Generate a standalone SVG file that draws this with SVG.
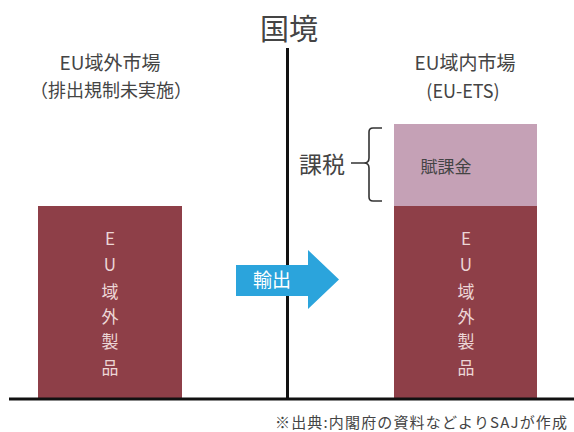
<svg xmlns="http://www.w3.org/2000/svg" width="574" height="432" viewBox="0 0 574 432">
<style>
.t{font-family:"Noto Sans CJK JP","Noto Sans",sans-serif;fill:#444}
.v{font-family:"Noto Sans CJK JP","Noto Sans",sans-serif;fill:#ecd6d6;font-size:17px;text-anchor:middle;dominant-baseline:central}
.bar{fill:#8e3f48}
</style>
<rect width="574" height="432" fill="#fff"/>
<g id="border-label"><text class="t" x="289" y="40" font-size="29" text-anchor="middle" fill="#333">国境</text></g>
<g id="left-title">
<text class="t" x="110" y="70" font-size="19" text-anchor="middle">EU域外市場</text>
<text class="t" x="111" y="97" font-size="18" text-anchor="middle">（排出規制未実施）</text>
</g>
<g id="right-title">
<text class="t" x="465" y="70" font-size="19" text-anchor="middle">EU域内市場</text>
<text class="t" x="463" y="98" font-size="18" text-anchor="middle">(EU-ETS)</text>
</g>
<g id="left-bar">
<rect class="bar" x="38" y="206" width="144" height="193"/>
<text class="v" x="110"><tspan x="110" y="237">E</tspan><tspan x="110" y="263">U</tspan><tspan x="110" y="290">域</tspan><tspan x="110" y="315">外</tspan><tspan x="110" y="340">製</tspan><tspan x="110" y="366">品</tspan></text>
</g>
<g id="right-bar">
<rect x="394" y="124" width="143" height="82" fill="#c5a1b6"/>
<text class="t" x="446" y="173" font-size="17" text-anchor="middle" fill="#555">賦課金</text>
<rect class="bar" x="394" y="206" width="143" height="193"/>
<text class="v" x="466"><tspan x="466" y="237">E</tspan><tspan x="466" y="263">U</tspan><tspan x="466" y="290">域</tspan><tspan x="466" y="315">外</tspan><tspan x="466" y="340">製</tspan><tspan x="466" y="366">品</tspan></text>
</g>
<g id="tax-label">
<text class="t" x="322" y="173" font-size="23" text-anchor="middle">課税</text>
<path d="M382,128 H373 Q369,128 369,132 V158 Q369,163 364,163 Q369,163 369,168 V197 Q369,201 373,201 H382 M351,163 H365" fill="none" stroke="#333" stroke-width="1.6"/>
</g>
<g id="connectors">
<line x1="287.5" y1="48" x2="287.5" y2="399" stroke="#111" stroke-width="3"/>
<line x1="9" y1="399" x2="574" y2="399" stroke="#111" stroke-width="3"/>
</g>
<g id="export-arrow">
<path d="M236,265 H308 V250 L339,279.5 L308,309 V296 H236 Z" fill="#2ba4dc"/>
<text x="272" y="287" font-family="Noto Sans CJK JP,Noto Sans,sans-serif" font-size="19" fill="#fff" text-anchor="middle">輸出</text>
</g>
<g id="footnote"><text class="t" x="275" y="428" font-size="15" textLength="292" lengthAdjust="spacing" fill="#333">※出典:内閣府の資料などよりSAJが作成</text></g>
</svg>
